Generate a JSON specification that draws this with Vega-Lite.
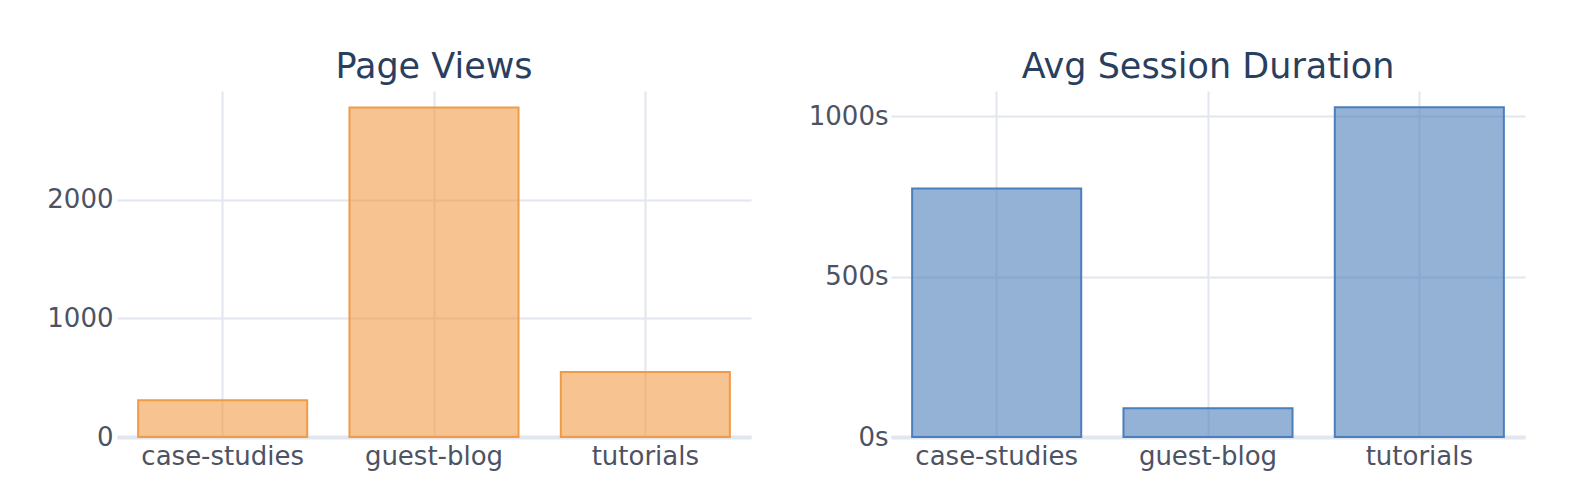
{
  "$schema": "https://vega.github.io/schema/vega-lite/v6.json",
  "background": "white",
  "padding": {"left": 37, "top": 50, "right": 20, "bottom": 30},
  "bounds": "flush",
  "spacing": 140,
  "data": {"values": [
    {"section": "case-studies", "views": 310, "duration": 775},
    {"section": "guest-blog", "views": 2779, "duration": 90},
    {"section": "tutorials", "views": 548, "duration": 1028}
  ]},
  "config": {
    "font": "DejaVu Sans",
    "view": {"stroke": null},
    "title": {"font": "DejaVu Sans", "fontSize": 35, "fontWeight": "normal", "color": "#2a3f5f", "anchor": "middle", "baseline": "alphabetic", "offset": 6},
    "axis": {
      "labelFont": "DejaVu Sans", "labelFontSize": 26, "labelColor": "#4b5364",
      "gridColor": "#e2e6ee", "gridWidth": 2, "ticks": false, "title": null
    }
  },
  "hconcat": [
    {
      "width": 634, "height": 346,
      "title": "Page Views",
      "mark": {"type": "bar", "fill": "#f09b48", "fillOpacity": 0.6, "stroke": "#f09b48", "strokeWidth": 2},
      "encoding": {
        "x": {"field": "section", "type": "nominal", "sort": null,
              "scale": {"paddingInner": 0.2, "paddingOuter": 0.1},
              "axis": {"labelAngle": 0, "bandPosition": 0.5, "grid": true, "domainColor": "#e2e6ee", "domainWidth": 4, "labelPadding": 6}},
        "y": {"field": "views", "type": "quantitative",
              "scale": {"domain": [0, 2918], "nice": false},
              "axis": {"values": [0, 1000, 2000], "format": "d", "domain": false, "labelPadding": 4, "minExtent": 80, "maxExtent": 80}}
      }
    },
    {
      "width": 634, "height": 346,
      "title": "Avg Session Duration",
      "mark": {"type": "bar", "fill": "#4b7fbb", "fillOpacity": 0.6, "stroke": "#4b7fbb", "strokeWidth": 2},
      "encoding": {
        "x": {"field": "section", "type": "nominal", "sort": null,
              "scale": {"paddingInner": 0.2, "paddingOuter": 0.1},
              "axis": {"labelAngle": 0, "bandPosition": 0.5, "grid": true, "domainColor": "#e2e6ee", "domainWidth": 4, "labelPadding": 6}},
        "y": {"field": "duration", "type": "quantitative",
              "scale": {"domain": [0, 1079], "nice": false},
              "axis": {"values": [0, 500, 1000], "labelExpr": "datum.value + 's'", "domain": false, "labelPadding": 3, "minExtent": 80, "maxExtent": 80}}
      }
    }
  ]
}
